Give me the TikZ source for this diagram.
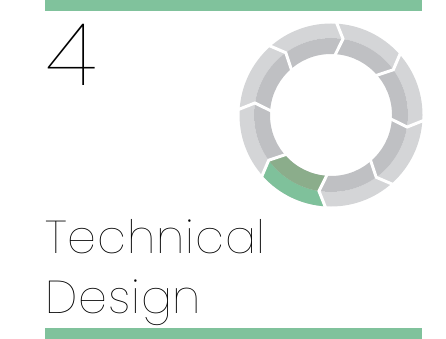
\documentclass[tikz,border=0pt]{standalone}
\usepackage{fontspec}
\newfontfamily\thinfont{Poppins Thin}
\newfontfamily\thinspaced{Poppins Thin}[LetterSpace=2]
\definecolor{bargreen}{HTML}{80C29C}
\definecolor{ringlight}{HTML}{D4D5D7}
\definecolor{ringdark}{HTML}{BFC0C3}
\definecolor{greenlight}{HTML}{7FC19B}
\definecolor{greendark}{HTML}{8BAD8B}

\begin{document}
\begin{tikzpicture}[x=1pt,y=-1pt]
\useasboundingbox (0,0) rectangle (446,339);
\fill[bargreen] (45,0) rectangle (422,11);
\fill[bargreen] (45,328) rectangle (422,339);
\begin{scope}[shift={(331,115)},yscale=-1]
\fill[ringlight, even odd rule] (0,0) circle (91.5) (0,0) circle (77);
\fill[ringdark, even odd rule] (0,0) circle (77) (0,0) circle (61);
\fill[greenlight] (-93:91.5) arc (-93:-138:91.5) -- (-144:77) arc (-144:-99:77) -- cycle;
\fill[greendark] (-144:77) -- (-138:61) arc (-138:-93:61) -- (-99:77) arc (-99:-144:77) -- cycle;
\foreach \a in {87,42,-3,-48,-93,-138,177,132}
  \draw[white, line width=3] (\a:94) -- ({\a-6}:77) -- (\a:58);
\end{scope}
\node[anchor=base west, inner sep=0] (four) at (46,86) {\thinfont\fontsize{87}{87}\selectfont 4};
\node[anchor=base west, inner sep=0] (tech) at (45,253) {\thinspaced\fontsize{46}{46}\selectfont Technical};
\node[anchor=base west, inner sep=0] (design) at (45,313) {\thinspaced\fontsize{46}{46}\selectfont Design};
\end{tikzpicture}
\end{document}
